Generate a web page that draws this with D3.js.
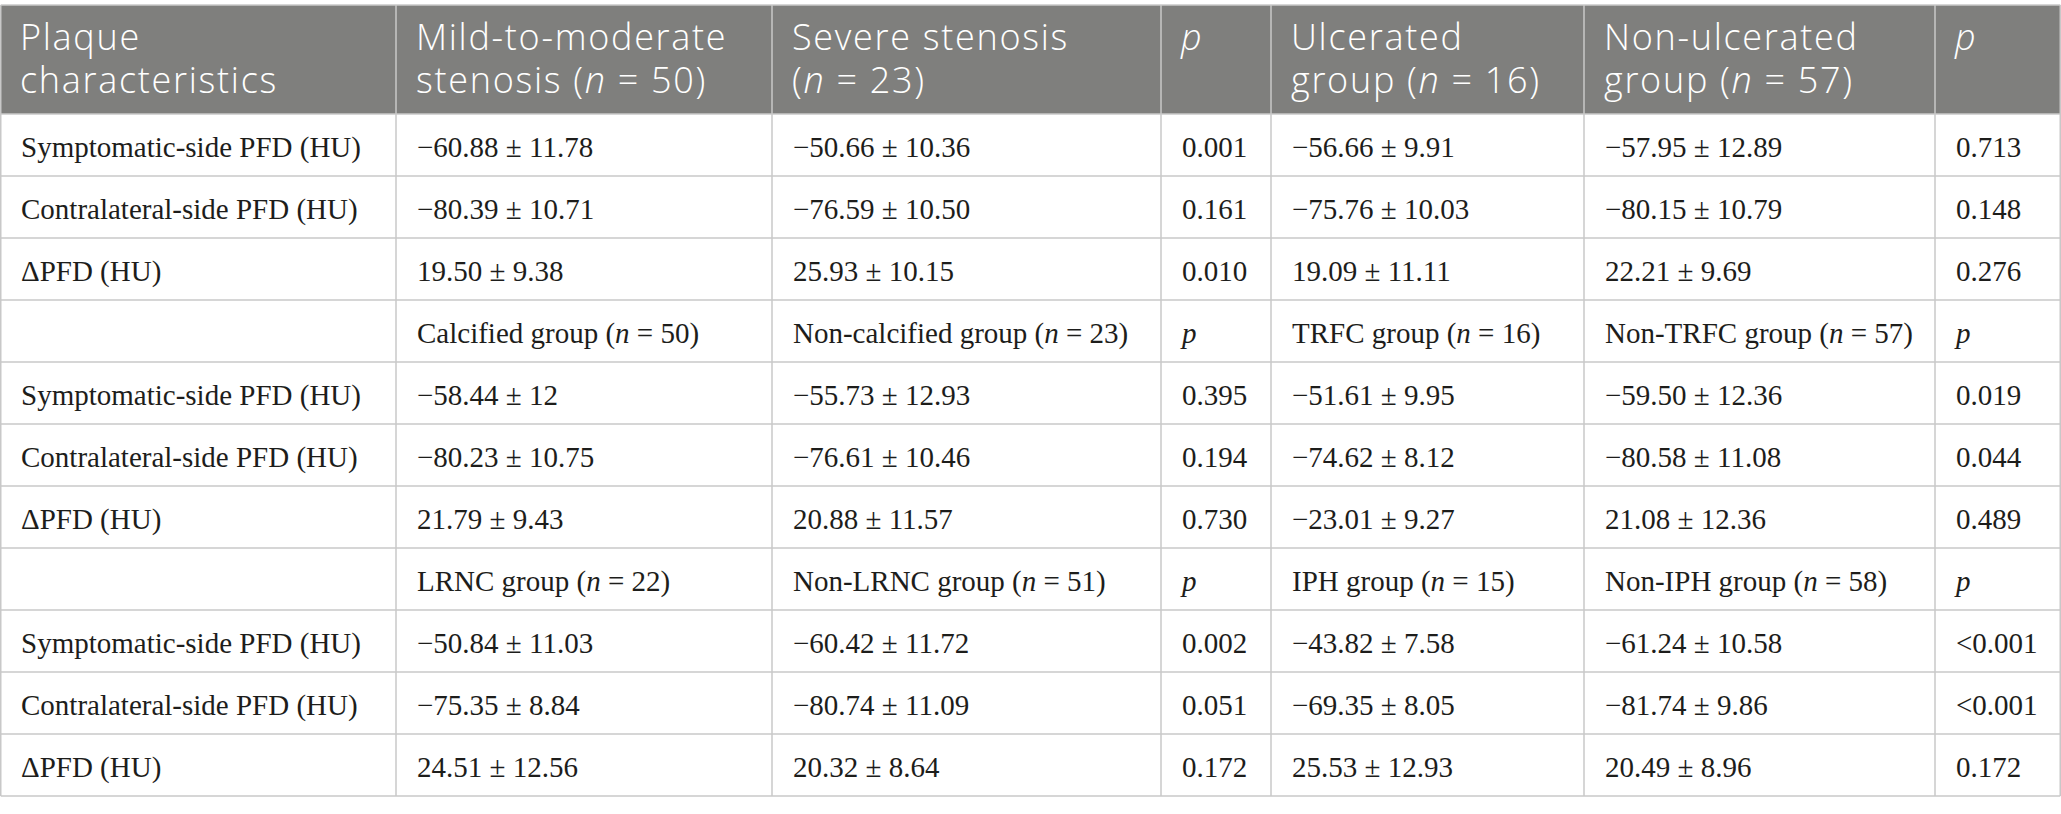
<!DOCTYPE html>
<html>
<head>
<meta charset="utf-8">
<script src="https://cdn.jsdelivr.net/npm/d3@7"></script>
<style>
  html, body { margin: 0; padding: 0; background: #fff; }
  svg { display: block; }
  text { white-space: pre; }
</style>
</head>
<body>
<div id="table"></div>
<script>
// *...* marks italic runs
var headLines = [
    ["Plaque", "characteristics"],
    ["Mild-to-moderate", "stenosis (*n* = 50)"],
    ["Severe stenosis", "(*n* = 23)"],
    ["*p*"],
    ["Ulcerated", "group (*n* = 16)"],
    ["Non-ulcerated", "group (*n* = 57)"],
    ["*p*"]
];

var rowLabels = ["Symptomatic-side PFD (HU)", "Contralateral-side PFD (HU)", "\u0394PFD (HU)"];

var stenosisUlcerRows = [
    ["\u221260.88 \u00b1 11.78", "\u221250.66 \u00b1 10.36", "0.001", "\u221256.66 \u00b1 9.91", "\u221257.95 \u00b1 12.89", "0.713"],
    ["\u221280.39 \u00b1 10.71", "\u221276.59 \u00b1 10.50", "0.161", "\u221275.76 \u00b1 10.03", "\u221280.15 \u00b1 10.79", "0.148"],
    ["19.50 \u00b1 9.38", "25.93 \u00b1 10.15", "0.010", "19.09 \u00b1 11.11", "22.21 \u00b1 9.69", "0.276"]
];

var calcTrfcHead = ["Calcified group (*n* = 50)", "Non-calcified group (*n* = 23)", "*p*", "TRFC group (*n* = 16)", "Non-TRFC group (*n* = 57)", "*p*"];
var calcTrfcRows = [
    ["\u221258.44 \u00b1 12", "\u221255.73 \u00b1 12.93", "0.395", "\u221251.61 \u00b1 9.95", "\u221259.50 \u00b1 12.36", "0.019"],
    ["\u221280.23 \u00b1 10.75", "\u221276.61 \u00b1 10.46", "0.194", "\u221274.62 \u00b1 8.12", "\u221280.58 \u00b1 11.08", "0.044"],
    ["21.79 \u00b1 9.43", "20.88 \u00b1 11.57", "0.730", "\u221223.01 \u00b1 9.27", "21.08 \u00b1 12.36", "0.489"]
];

var lrncIphHead = ["LRNC group (*n* = 22)", "Non-LRNC group (*n* = 51)", "*p*", "IPH group (*n* = 15)", "Non-IPH group (*n* = 58)", "*p*"];
var lrncIphRows = [
    ["\u221250.84 \u00b1 11.03", "\u221260.42 \u00b1 11.72", "0.002", "\u221243.82 \u00b1 7.58", "\u221261.24 \u00b1 10.58", "<0.001"],
    ["\u221275.35 \u00b1 8.84", "\u221280.74 \u00b1 11.09", "0.051", "\u221269.35 \u00b1 8.05", "\u221281.74 \u00b1 9.86", "<0.001"],
    ["24.51 \u00b1 12.56", "20.32 \u00b1 8.64", "0.172", "25.53 \u00b1 12.93", "20.49 \u00b1 8.96", "0.172"]
];

// layout
var width = 2061, height = 814;
var colWidths = [396, 376, 389, 110, 313, 351, 126];
var tableTop = 5, headBottom = 114, tableBottom = 796;
var pad = 21;
var lineColor = "#c8c8c8";
var headFill = "#7f7f7d";

var bodyRows = [];
stenosisUlcerRows.forEach(function(r, i) { bodyRows.push([rowLabels[i]].concat(r)); });
bodyRows.push([""].concat(calcTrfcHead));
calcTrfcRows.forEach(function(r, i) { bodyRows.push([rowLabels[i]].concat(r)); });
bodyRows.push([""].concat(lrncIphHead));
lrncIphRows.forEach(function(r, i) { bodyRows.push([rowLabels[i]].concat(r)); });

var edges = [0].concat(Array.from(d3.cumsum(colWidths)));
var x = d3.scaleOrdinal().domain(d3.range(colWidths.length)).range(edges.slice(0, -1));
var y = d3.scaleBand().domain(d3.range(bodyRows.length)).range([headBottom, tableBottom]);

var svg = d3.select("#table").append("svg")
    .attr("width", width)
    .attr("height", height);

svg.append("rect")
    .attr("x", 0)
    .attr("y", tableTop)
    .attr("width", width)
    .attr("height", headBottom - tableTop)
    .attr("fill", headFill);

function rich(sel, str) {
    str.split("*").forEach(function(part, i) {
        if (part) sel.append("tspan").attr("font-style", i % 2 ? "italic" : "normal").text(part);
    });
}

// header text
var head = svg.append("g")
    .attr("font-family", "'Open Sans', 'Noto Sans', sans-serif")
    .attr("font-size", 36)
    .attr("font-weight", 300)
    .attr("letter-spacing", 1.7)
    .attr("fill", "#ffffff");

headLines.forEach(function(lines, c) {
    lines.forEach(function(line, k) {
        var t = head.append("text")
            .attr("x", x(c) + pad - 1)
            .attr("y", 50 + k * 43);
        rich(t, line);
    });
});

// body cells
var body = svg.append("g")
    .attr("font-family", "'Liberation Serif', 'Times New Roman', serif")
    .attr("font-size", 29)
    .attr("fill", "#1d1d1b");

bodyRows.forEach(function(row, r) {
    row.forEach(function(cell, c) {
        if (!cell) return;
        var t = body.append("text")
            .attr("x", x(c) + pad)
            .attr("y", y(r) + y.bandwidth() / 2 + 11.5);
        rich(t, cell);
    });
});

// grid
var grid = svg.append("g")
    .attr("stroke", lineColor)
    .attr("stroke-width", 1.5)
    .attr("fill", "none");

var hLines = [tableTop, headBottom].concat(y.domain().map(function(d) { return y(d) + y.bandwidth(); }));
grid.selectAll("line.h").data(hLines).enter()
    .append("line")
    .attr("class", "h")
    .attr("x1", 0.75)
    .attr("x2", width - 0.75)
    .attr("y1", function(d) { return d; })
    .attr("y2", function(d) { return d; });

var vLines = edges.map(function(d, i) { return i === 0 ? 0.75 : (i === edges.length - 1 ? width - 0.75 : d); });
grid.selectAll("line.v").data(vLines).enter()
    .append("line")
    .attr("class", "v")
    .attr("x1", function(d) { return d; })
    .attr("x2", function(d) { return d; })
    .attr("y1", tableTop)
    .attr("y2", tableBottom);
</script>
</body>
</html>
